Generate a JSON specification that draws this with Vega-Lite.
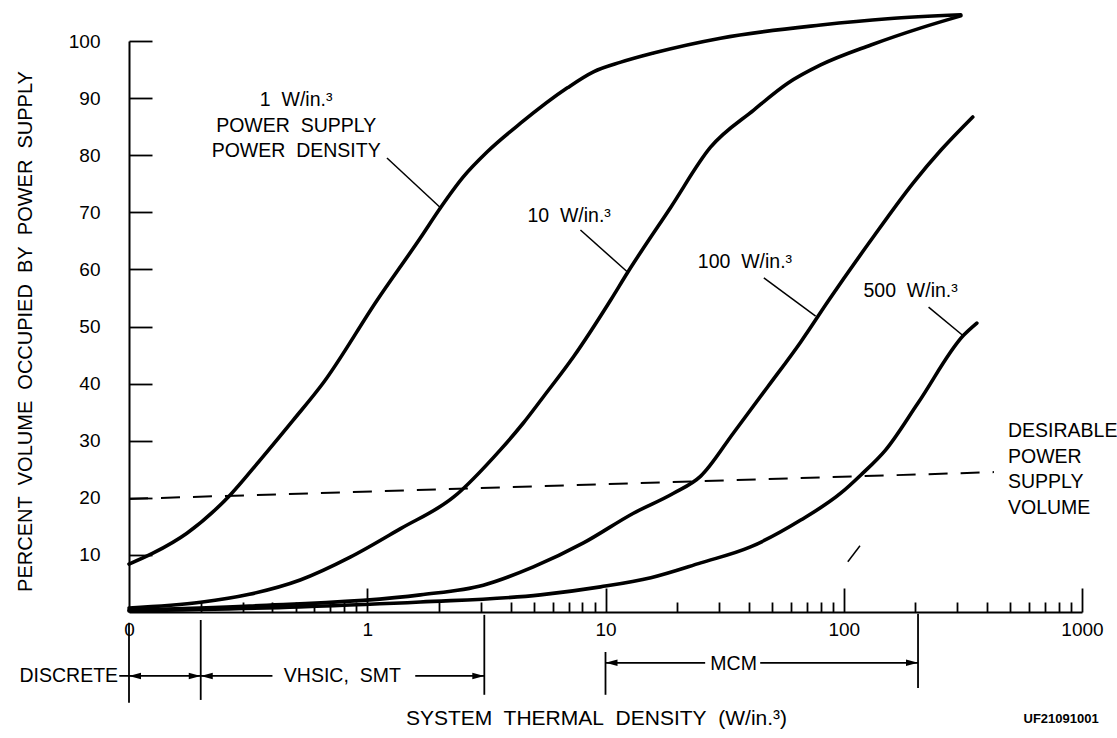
{
  "$schema": "https://vega.github.io/schema/vega-lite/v6.json",
  "width": 953,
  "height": 571,
  "autosize": {"type": "none"},
  "padding": {"left": 129, "top": 41, "right": 35, "bottom": 126},
  "background": "white",
  "config": {
    "view": {"stroke": null},
    "axis": {
      "grid": false,
      "domainColor": "black",
      "domainWidth": 2,
      "tickColor": "black",
      "tickWidth": 1.8,
      "labelColor": "black",
      "labelFont": "Liberation Sans",
      "labelFontSize": 19,
      "titleFont": "Liberation Sans",
      "titleFontSize": 20,
      "titleFontWeight": "normal",
      "titleColor": "black"
    },
    "text": {"font": "Liberation Sans", "color": "black"}
  },
  "datasets": {
    "curves": [
      {"s": "1", "x": 0.1, "y": 8.4}, {"s": "1", "x": 0.126, "y": 10.3}, {"s": "1", "x": 0.175, "y": 13.8},
      {"s": "1", "x": 0.266, "y": 20.5}, {"s": "1", "x": 0.355, "y": 26.6}, {"s": "1", "x": 0.489, "y": 33.6},
      {"s": "1", "x": 0.653, "y": 40.1}, {"s": "1", "x": 1.1, "y": 54.6}, {"s": "1", "x": 1.67, "y": 65.5},
      {"s": "1", "x": 2.03, "y": 70.8}, {"s": "1", "x": 2.53, "y": 76.2}, {"s": "1", "x": 3.19, "y": 80.6},
      {"s": "1", "x": 4.4, "y": 85.6}, {"s": "1", "x": 6.92, "y": 91.8}, {"s": "1", "x": 8.9, "y": 94.6},
      {"s": "1", "x": 11.6, "y": 96.3}, {"s": "1", "x": 15.9, "y": 97.9}, {"s": "1", "x": 30.4, "y": 100.5},
      {"s": "1", "x": 80.1, "y": 102.8}, {"s": "1", "x": 153, "y": 103.9}, {"s": "1", "x": 310, "y": 104.6},

      {"s": "10", "x": 0.1, "y": 0.7}, {"s": "10", "x": 0.2, "y": 1.7}, {"s": "10", "x": 0.32, "y": 3.1},
      {"s": "10", "x": 0.523, "y": 5.6}, {"s": "10", "x": 0.848, "y": 9.6}, {"s": "10", "x": 1.38, "y": 14.6},
      {"s": "10", "x": 2.3, "y": 20.1}, {"s": "10", "x": 3.62, "y": 28.4}, {"s": "10", "x": 4.52, "y": 33.1},
      {"s": "10", "x": 5.49, "y": 37.7}, {"s": "10", "x": 7.34, "y": 44.7}, {"s": "10", "x": 10.5, "y": 54.6},
      {"s": "10", "x": 12.4, "y": 59.5}, {"s": "10", "x": 18.8, "y": 70.9}, {"s": "10", "x": 27.6, "y": 81.4},
      {"s": "10", "x": 41.9, "y": 87.9}, {"s": "10", "x": 58.2, "y": 92.6}, {"s": "10", "x": 80, "y": 95.8},
      {"s": "10", "x": 130, "y": 99.3}, {"s": "10", "x": 211, "y": 102.3}, {"s": "10", "x": 310, "y": 104.4},

      {"s": "100", "x": 0.1, "y": 0.35}, {"s": "100", "x": 0.32, "y": 1.05}, {"s": "100", "x": 1.67, "y": 3.0},
      {"s": "100", "x": 3.07, "y": 4.7}, {"s": "100", "x": 4.98, "y": 7.9}, {"s": "100", "x": 8.08, "y": 12.1},
      {"s": "100", "x": 13.1, "y": 17.3}, {"s": "100", "x": 19.3, "y": 20.8}, {"s": "100", "x": 25.1, "y": 23.8},
      {"s": "100", "x": 34.5, "y": 31.4}, {"s": "100", "x": 47.9, "y": 39.4}, {"s": "100", "x": 66, "y": 47.3},
      {"s": "100", "x": 86.5, "y": 54.6}, {"s": "100", "x": 130, "y": 65.1}, {"s": "100", "x": 197, "y": 75.3},
      {"s": "100", "x": 256, "y": 80.9}, {"s": "100", "x": 348, "y": 86.7},

      {"s": "500", "x": 0.1, "y": 0.2}, {"s": "500", "x": 0.52, "y": 0.9}, {"s": "500", "x": 1.67, "y": 1.75},
      {"s": "500", "x": 5.33, "y": 3.0}, {"s": "500", "x": 9.53, "y": 4.4}, {"s": "500", "x": 15.5, "y": 6.0},
      {"s": "500", "x": 25.1, "y": 8.6}, {"s": "500", "x": 40.6, "y": 11.4}, {"s": "500", "x": 66, "y": 16.1},
      {"s": "500", "x": 97.1, "y": 20.8}, {"s": "500", "x": 118, "y": 24.0}, {"s": "500", "x": 150, "y": 28.4},
      {"s": "500", "x": 205, "y": 36.6}, {"s": "500", "x": 319, "y": 48.5}, {"s": "500", "x": 362, "y": 50.6}
    ],
    "dash": [{"x": 0.1, "y": 19.8}, {"x": 427, "y": 24.5}],
    "leaders": [
      {"x": 1.21, "y": 79.5, "x2": 2.03, "y2": 70.8},
      {"x": 7.85, "y": 66.9, "x2": 12.4, "y2": 59.5},
      {"x": 46.2, "y": 58.5, "x2": 76.2, "y2": 51.8},
      {"x": 227, "y": 53.4, "x2": 319, "y2": 48.3},
      {"x": 104, "y": 8.8, "x2": 117, "y2": 11.6}
    ],
    "bars": [
      {"x": 0.1, "y": -1.9, "y2": -15.9},
      {"x": 0.2, "y": -1.4, "y2": -15.4},
      {"x": 3.1, "y": -0.5, "y2": -14.5},
      {"x": 10, "y": -7, "y2": -14.5},
      {"x": 205, "y": -0.3, "y2": -13.3}
    ],
    "arrows": [
      {"x": 0.091, "x2": 0.2, "y": -11.2},
      {"x": 0.2, "x2": 0.4, "y": -11.2},
      {"x": 1.59, "x2": 3.1, "y": -11.2},
      {"x": 10, "x2": 26.2, "y": -8.9},
      {"x": 44.6, "x2": 205, "y": -8.9}
    ],
    "heads": [
      {"x": 0.1, "y": -11.2, "dir": "L"},
      {"x": 0.2, "y": -11.2, "dir": "R"},
      {"x": 0.2, "y": -11.2, "dir": "L"},
      {"x": 3.1, "y": -11.2, "dir": "R"},
      {"x": 10, "y": -8.9, "dir": "L"},
      {"x": 205, "y": -8.9, "dir": "R"}
    ],
    "txtCenter": [
      {"x": 0.503, "y": 88.6, "t": "1\u00a0 W/in.³\nPOWER\u00a0 SUPPLY\nPOWER\u00a0 DENSITY"},
      {"x": 0.786, "y": -12.3, "t": "VHSIC,\u00a0 SMT"},
      {"x": 34.5, "y": -10.1, "t": "MCM"}
    ],
    "txtLeft": [
      {"x": 4.7, "y": 68.3, "t": "10\u00a0 W/in.³"},
      {"x": 24.4, "y": 60.2, "t": "100\u00a0 W/in.³"},
      {"x": 121, "y": 55.2, "t": "500\u00a0 W/in.³"},
      {"x": 489, "y": 30.6, "t": "DESIRABLE\nPOWER\nSUPPLY\nVOLUME"}
    ],
    "txtRight": [
      {"x": 0.09, "y": -12.3, "t": "DISCRETE"}
    ],
    "code": [
      {"x": 817, "y": -18.8, "t": "UF21091001"}
    ]
  },
  "encoding": {
    "x": {"field": "x", "type": "quantitative", "scale": {"type": "log", "domain": [0.1, 1000]}, "axis": null},
    "y": {"field": "y", "type": "quantitative", "scale": {"domain": [0, 100]}, "axis": null}
  },
  "resolve": {"axis": {"x": "independent", "y": "independent"}},
  "layer": [
    {
      "data": {"name": "dash"},
      "mark": {"type": "line", "color": "black", "strokeWidth": 2, "strokeDash": [19, 13]},
      "encoding": {
        "x": {"field": "x", "type": "quantitative", "scale": {"type": "log", "domain": [0.1, 1000]},
          "axis": {"orient": "bottom", "values": [0.2, 0.3, 0.4, 0.5, 0.6, 0.7, 0.8, 0.9, 1, 2, 3, 4, 5, 6, 7, 8, 9, 10, 20, 30, 40, 50, 60, 70, 80, 90, 100, 200, 300, 400, 500, 600, 700, 800, 900, 1000],
            "labels": false, "domain": false, "title": null,
            "tickSize": {"condition": {"test": "datum.value == 1 || datum.value == 10 || datum.value == 100 || datum.value == 1000", "value": -24}, "value": -10}}},
        "y": {"field": "y", "type": "quantitative", "scale": {"domain": [0, 100]},
          "axis": {"orient": "left", "values": [10, 20, 30, 40, 50, 60, 70, 80, 90, 100], "labels": false, "domain": false, "title": null, "tickSize": -23}}
      }
    },
    {
      "data": {"name": "curves"},
      "mark": {"type": "line", "color": "black", "strokeWidth": 3.6, "interpolate": "monotone", "strokeCap": "round"},
      "encoding": {
        "x": {"field": "x", "type": "quantitative", "scale": {"type": "log", "domain": [0.1, 1000]},
          "axis": {"orient": "bottom", "values": [0.1, 1, 10, 100, 1000], "ticks": false, "domain": true,
            "labelExpr": "datum.value < 0.5 ? '0' : format(datum.value, 'd')", "labelFlush": false, "labelOverlap": false, "labelPadding": 8,
            "title": "SYSTEM\u00a0 THERMAL\u00a0 DENSITY\u00a0 (W/in.³)", "titleFontSize": 21, "titleX": 467, "titleY": 106, "titleBaseline": "middle", "titleAlign": "center"}},
        "y": {"field": "y", "type": "quantitative", "scale": {"domain": [0, 100]},
          "axis": {"orient": "left", "values": [10, 20, 30, 40, 50, 60, 70, 80, 90, 100], "ticks": false, "domain": true, "labelPadding": 29,
            "title": "PERCENT\u00a0 VOLUME\u00a0 OCCUPIED\u00a0 BY\u00a0 POWER\u00a0 SUPPLY", "titleX": -104, "titleY": 290, "titleBaseline": "middle", "titleAlign": "center"}},
        "detail": {"field": "s", "type": "nominal"}
      }
    },
    {
      "data": {"name": "leaders"},
      "mark": {"type": "rule", "color": "black", "strokeWidth": 1.5},
      "encoding": {
        "x2": {"field": "x2"},
        "y2": {"field": "y2"}
      }
    },
    {
      "data": {"name": "bars"},
      "mark": {"type": "rule", "color": "black", "strokeWidth": 1.8},
      "encoding": {
        "y2": {"field": "y2"}
      }
    },
    {
      "data": {"name": "arrows"},
      "mark": {"type": "rule", "color": "black", "strokeWidth": 1.8},
      "encoding": {
        "x2": {"field": "x2"}
      }
    },
    {
      "data": {"name": "heads"},
      "mark": {"type": "point", "filled": true, "color": "black", "opacity": 1, "size": 576, "strokeWidth": 0},
      "encoding": {
        "shape": {"field": "dir", "type": "nominal", "scale": {"domain": ["L", "R"], "range": ["M0,0L1,-0.27L1,0.27Z", "M0,0L-1,-0.27L-1,0.27Z"]}, "legend": null}
      }
    },
    {
      "data": {"name": "txtCenter"},
      "mark": {"type": "text", "align": "center", "baseline": "alphabetic", "fontSize": 19.5, "lineBreak": "\n", "lineHeight": 25.5},
      "encoding": {"text": {"field": "t", "type": "nominal"}}
    },
    {
      "data": {"name": "txtLeft"},
      "mark": {"type": "text", "align": "left", "baseline": "alphabetic", "fontSize": 19.5, "lineBreak": "\n", "lineHeight": 25.5},
      "encoding": {"text": {"field": "t", "type": "nominal"}}
    },
    {
      "data": {"name": "txtRight"},
      "mark": {"type": "text", "align": "right", "baseline": "alphabetic", "fontSize": 19.5},
      "encoding": {"text": {"field": "t", "type": "nominal"}}
    },
    {
      "data": {"name": "code"},
      "mark": {"type": "text", "align": "center", "baseline": "middle", "fontSize": 13, "fontWeight": "bold"},
      "encoding": {"text": {"field": "t", "type": "nominal"}}
    }
  ]
}
